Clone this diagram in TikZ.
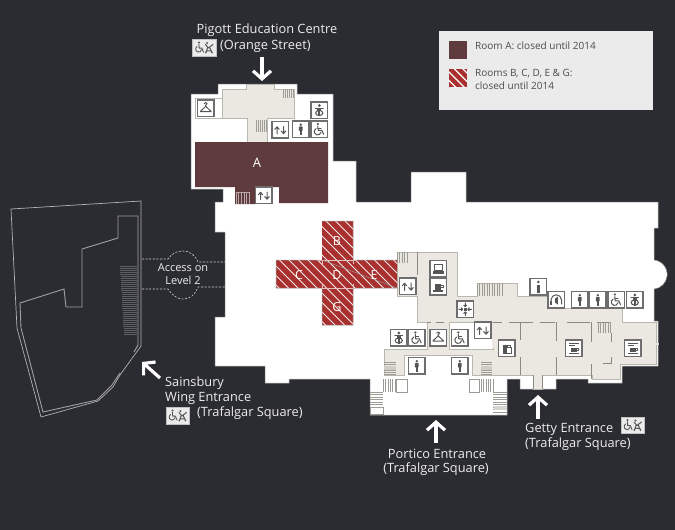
\documentclass[tikz,border=0pt]{standalone}
\usepackage{fontspec}
\setmainfont{Open Sans}
\usetikzlibrary{arrows.meta}
\definecolor{bgdark}{HTML}{2B2C31}
\definecolor{beige}{HTML}{EAE8E0}
\definecolor{roomA}{HTML}{5F3B3D}
\definecolor{roomred}{HTML}{A8302E}
\definecolor{legendbg}{HTML}{EBEBEB}
\definecolor{edge}{HTML}{B9B8AE}
\definecolor{icog}{HTML}{555558}
\definecolor{txtw}{HTML}{EDEDED}
\tikzset{
  lbl/.style={text=txtw,font=\fontsize{12.8}{15}\selectfont,inner sep=0pt},
  lgd/.style={text=bgdark!85,font=\fontsize{10}{12}\selectfont,inner sep=0pt,anchor=west},
  roomlbl/.style={text=white,font=\fontsize{12.5}{14}\selectfont,inner sep=0pt},
  entry/.style={white,line width=3.2,-{Straight Barb[length=8,width=18,line width=3.2]}},
  wall/.style={draw=edge,line width=.7},
  inner line/.style={draw=edge!75!black,line width=.7},
  tread/.style={draw=edge!85!black,line width=.5},
  wing/.style={draw=black!30,line width=.7},
  wingb/.style={draw=white!55!bgdark,line width=.9},
  acc/.style={draw=white!80!bgdark,line width=.6,dash pattern=on 2pt off 1.6pt},
  icobox/.style={fill=white,draw=icog!85,line width=1.1},
  gly/.style={draw=icog,line width=1,line cap=round,line join=round},
  glf/.style={fill=icog,draw=none},
}
\newcommand{\ico}[3]{\begin{scope}[shift={(#1,#2)}]\draw[icobox] (0,0) rectangle (16.5,16.5); #3\end{scope}}
\newcommand{\gLift}{\draw[gly] (5,12.5)--(5,5.5) (2.8,7.8)--(5,5.3)--(7.2,7.8) (11.5,5)--(11.5,12) (9.3,9.6)--(11.5,12.2)--(13.7,9.6);}
\newcommand{\gPerson}{\fill[glf] (8.25,3.7) circle (1.3); \fill[glf,rounded corners=.7] (6.4,5.4) rectangle (10.1,10); \fill[glf] (7,9.5) rectangle (9.5,14);}
\newcommand{\gWheel}{\fill[glf] (6.8,3) circle (1.2); \draw[gly] (6.8,5)--(7.1,9.3)--(10.8,9.3)--(12.6,13.3); \draw[gly] (7,7.1)--(10.2,7.1); \draw[gly] (5,7.6) arc[start angle=240,end angle=10,radius=3.4];}
\newcommand{\gBaby}{\fill[glf] (8.25,3.5) circle (1.5); \draw[gly] (4.4,6.2)--(12.1,6.2); \fill[glf] (6.2,6) rectangle (10.3,9); \draw[gly] (8.25,11) ellipse (3.6 and 2.6);\fill[glf] (7.4,9) rectangle (9.1,14);}
\newcommand{\gHanger}{\draw[gly] (8.2,6.3)--(8.2,5.2) .. controls (10,4.5) and (10,2.5) .. (8.2,2.5) .. controls (7,2.5) and (6.8,3.2) .. (6.8,3.6); \draw[gly] (8.2,6.3)--(13.6,11.5)--(2.9,11.5)--cycle;}
\newcommand{\gCup}{\fill[glf] (4.8,5.2) rectangle (11,11); \draw[gly] (11,6.5)--(13,6.5)--(13,9)--(11,9); \fill[glf] (3.4,11.8) rectangle (12.6,13);}
\newcommand{\gLaptop}{\draw[gly] (4.2,3.6) rectangle (12.3,9.8); \fill[glf] (2.8,10.8) rectangle (13.7,13.4);}
\newcommand{\gInfo}{\fill[glf] (8.25,3.4) circle (1.4); \fill[glf] (6.9,6) rectangle (9.6,14);}
\newcommand{\gCompass}{\draw[gly] (8.25,1.8)--(8.25,5.6) (6.8,4.2)--(8.25,5.6)--(9.7,4.2) (8.25,14.7)--(8.25,10.9) (6.8,12.3)--(8.25,10.9)--(9.7,12.3) (1.8,8.25)--(5.6,8.25) (4.2,6.8)--(5.6,8.25)--(4.2,9.7) (14.7,8.25)--(10.9,8.25) (12.3,6.8)--(10.9,8.25)--(12.3,9.7); \fill[glf] (7,7) rectangle (9.5,9.5);}
\newcommand{\gAudio}{\draw[gly] (3,12.5)--(3,8.5) arc[start angle=180,end angle=360,radius=5.25]--(13.5,12.5); \fill[glf] (2.2,9.5) rectangle (4,13); \fill[glf] (7,7)--(9.8,5.2)--(9.8,13)--(7,11)--cycle;}
\newcommand{\gBag}{\fill[glf] (4,4.5) rectangle (9.5,13.5); \draw[gly,fill=white] (8,7.6) rectangle (13,13.5); \draw[gly] (9.2,7.6)--(9.2,5.5)--(11.8,5.5)--(11.8,7.6);}
\newcommand{\gFood}{\fill[glf] (3.2,2.9) rectangle (13.4,4.3); \fill[glf] (3.2,5.3) rectangle (9,6.4); \fill[glf] (5,7.6) rectangle (11.6,12.3); \draw[gly] (11.6,8.5)--(13.3,8.5)--(13.3,10.5)--(11.6,10.5); \fill[glf] (3.4,13) rectangle (13,14.2);}
\newcommand{\badge}[2]{\begin{scope}[shift={(#1,#2)}]\draw[fill=legendbg,draw=white!70!bgdark,line width=.6] (0,0) rectangle (23.5,16.5);
  \fill[glf] (6.4,3) circle (1.1); \draw[gly,line width=.9] (6.4,4.6)--(6.7,8.6)--(9.4,8.6)--(11,12.6); \draw[gly,line width=.9] (4.6,7) arc[start angle=240,end angle=10,radius=3];
  \fill[glf] (14.4,3.5) circle (1.1); \draw[gly,line width=1] (13,5)--(16,8.5)--(20.4,5) (15.2,8)--(13.4,13.2) (17.2,8)--(19.5,13.2) (14,11.3)--(19,11.3); \fill[glf] (13.3,13) circle (.9) (19.5,13) circle (.9);\end{scope}}
\newcommand{\stairV}[5]{\foreach \xx in {#1,#5,...,#3}{\draw[tread] (\xx,#2)--(\xx,#4);}}
\newcommand{\stairH}[5]{\foreach \yy in {#2,#5,...,#4}{\draw[tread] (#1,\yy)--(#3,\yy);}}
\begin{document}
\begin{tikzpicture}[x=1pt,y=-1pt]
\useasboundingbox (0,0) rectangle (675,530);
\fill[bgdark] (0,0) rectangle (675,530);

% white floor
\path[fill=white,draw=white!60!black,line width=.5]
 (218,84)--(297,84)--(297,94)--(333,94)--(333,161)--(356,161)--(356,202)--(411,202)--(411,172)--(466,172)--(466,202)
 --(658,202)--(658,228)--(654,228)--(654,260) arc[start angle=-84,end angle=84,radius=14.6]
 --(654,321)--(658,321)--(658,366)--(622,366)--(622,383)--(588,383)--(588,379)--(556,379)--(556,389)--(520,389)--(520,379)
 --(507,379)--(507,415)--(370,415)--(370,379)--(289,379)--(289,383)--(265,383)--(265,366)--(215,366)--(215,317)--(225,317)
 --(225,232)--(215,232)--(215,202)--(223,202)--(223,189)--(191,189)--(191,94)--(218,94)--cycle;

% Pigott beige
\path[fill=beige,wall] (222,89)--(246,89)--(246,84.5)--(274,84.5)--(274,89)--(294,89)--(294,118)--(267,118)--(267,142)--(247,142)--(247,118)--(222,118)--cycle;
\draw[wall] (222,98)--(195,98)--(195,118)--(222,118);
\stairV{283}{89}{294}{98}{285}
\stairV{256}{120}{267}{132}{258}

% room A
\fill[roomA] (195,142)--(328,142)--(328,203)--(279,203)--(279,187)--(255,187)--(255,204)--(235,204)--(235,187)--(195,187)--cycle;
\begin{scope}[every path/.style={draw=white!55!roomA,line width=.5}]
\foreach \xx in {236,238.6,...,250}{\path (\xx,192)--(\xx,204);}
\path (236,192)--(249,192);
\end{scope}
\node[roomlbl,font=\fontsize{13}{15}\selectfont] (labA) at (257,163) {A};

% right beige
\path[fill=beige,wall] (397,252)--(457,252)--(457,296)--(477,296)--(477,283)--(517,283)--(517,296)--(547,296)--(547,308)--(622,308)--(622,322)--(656,322)--(656,364)--(620,364)--(620,379)--(592,379)--(592,375)--(542,375)--(542,389)--(533,389)--(533,375)--(472,375)--(472,355)--(404,355)--(404,375)--(384,375)--(384,349)--(427,349)--(427,322)--(417,322)--(417,296)--(397,296)--cycle;
\path[fill=white,wall] (449,322)--(493,322)--(493,349)--(449,349)--cycle;
\fill[beige] (492,323) rectangle (495,348);
\draw[inner line] (417,252)--(417,275);
\draw[inner line] (520,322)--(520,340) (520,357)--(520,375) (556,322)--(556,341) (556,357)--(556,375) (591,322)--(591,342) (611,333)--(611,342) (591,364)--(591,379) (603,363)--(611,363)--(611,357) (533,375)--(533,389) (542,375)--(542,389);
\draw[inner line] (493,322)--(502,322) (509,322)--(533,322) (540,322)--(555,322) (567,322)--(590,322) (597,322)--(610,322) (427,322)--(431,322) (436,322)--(444,322);
\draw[white!55!edge,line width=1.4] (656,344)--(659,344);
\stairV{397}{252}{409}{263}{399.5}
\stairV{477}{283}{503}{296}{479.5}
\stairV{598}{322}{611}{333}{600.5}
\stairH{384}{362}{396}{375}{364}
\stairH{481}{362}{492}{375}{364}
\fill[edge!70] (384,366) rectangle (396,370) (481,366) rectangle (492,370);

% portico
\stairV{383}{379}{396}{392}{385.4}
\draw[tread] (396,379) rectangle (407,392) (469,379) rectangle (479,392);
\stairV{481}{379}{493}{392}{483.4}
\stairH{370}{392}{383}{407}{394.5}
\draw[tread] (370,407) rectangle (383,414);
\stairH{493}{392}{507}{414}{394.5}
\fill[edge!60] (494,406) rectangle (507,410);

% hatched rooms
\begin{scope}
\clip (322,221)--(353,221)--(353,260)--(397,260)--(397,288)--(353,288)--(353,325)--(322,325)--(322,288)--(276,288)--(276,260)--(322,260)--cycle;
\fill[roomred] (270,215) rectangle (400,330);
\foreach \cc in {130,139.5,...,410}{\draw[white!90!roomred,line width=1] (\cc,215)--(\cc+120,335);}
\draw[white!70!roomred,line width=.6] (322,260)--(322,264) (353,260)--(353,264) (322,284)--(322,288) (353,284)--(353,288) (318,260)--(357,260) (318,288)--(357,288);
\end{scope}
\draw[white!60!black,line width=.5] (322,221)--(353,221)--(353,260)--(397,260) (397,288)--(353,288)--(353,325)--(322,325)--(322,288)--(276,288)--(276,260)--(322,260)--cycle;
\node[roomlbl] (labB) at (337,241) {B};
\node[roomlbl] (labC) at (299,275) {C};
\node[roomlbl] (labD) at (337,275) {D};
\node[roomlbl] (labE) at (374,275) {E};
\node[roomlbl] (labG) at (337,307) {G};

% icons
\ico{197.5}{100}{\gHanger}
\ico{311}{102}{\gBaby}
\ico{272}{121.5}{\gLift}
\ico{292.5}{121}{\gPerson}
\ico{311}{121}{\gWheel}
\ico{255.5}{187}{\gLift}
\ico{430}{260.5}{\gLaptop}
\ico{430}{278.5}{\gCup}
\ico{399.5}{278}{\gLift}
\ico{457}{301}{\gCompass}
\ico{530}{278.5}{\gInfo}
\ico{548}{291.5}{\gAudio}
\ico{571.5}{291.5}{\gPerson}
\ico{589.5}{291.5}{\gPerson}
\ico{608}{291.5}{\gWheel}
\ico{626.5}{291.5}{\gBaby}
\ico{390.5}{329.5}{\gBaby}
\ico{408.5}{329.5}{\gWheel}
\ico{430}{329.5}{\gHanger}
\ico{451.5}{329.5}{\gWheel}
\ico{474.5}{322}{\gLift}
\ico{498.5}{340}{\gBag}
\ico{565.5}{340}{\gFood}
\ico{624.5}{340}{\gFood}
\ico{408.5}{357.5}{\gPerson}
\ico{451.5}{357.5}{\gPerson}

% Sainsbury wing
\draw[wing] (11,209)--(141,201)--(141,346)--(120,375)--(113,387)--(98,401)--(41,417)--(17,328)--cycle;
\draw[wingb] (118,238)--(118,216)--(138,216)--(138,345)--(134,352) (118,238)--(82,249)--(82,307)--(66,307)--(64,289)--(20,303)--(21,328)--(43,412)--(97,400)--(112,385)--(120,373);
\foreach \yy in {266,268,...,335}{\pgfmathsetmacro{\xs}{120+(\yy-266)*0.058}\draw[white!24!bgdark,line width=.5] (\xs,\yy)--(137,\yy);}

% access dashes
\coordinate (wt) at (142,259); \coordinate (wb) at (142,289);
\coordinate (mt) at (225,262); \coordinate (mb) at (225,287);
\coordinate (ct) at (168,259); \coordinate (cb) at (168,289);
\coordinate (dt) at (198,262); \coordinate (db) at (198,287);
\draw[acc] (wt)--(ct) .. controls (172,253) and (177,251) .. (183,251) .. controls (190,251) and (195,255) .. (dt)--(mt);
\draw[acc] (wb)--(cb) .. controls (172,295) and (177,299) .. (183,299) .. controls (190,299) and (195,295) .. (db)--(mb);
\node[lbl,font=\fontsize{11}{13}\selectfont] (access1) at (183,267.5) {Access on};
\node[lbl,font=\fontsize{11}{13}\selectfont] (access2) at (183,280.5) {Level 2};

% labels and arrows
\node[lbl] (pig) at (267,30) {Pigott Education Centre};
\node[lbl,anchor=west] (ora) at (220,46) {(Orange Street)};
\badge{192.5}{39.5}
\coordinate (a1s) at (262,57); \coordinate (a1e) at (262,81);
\draw[entry] (a1s)--(a1e);

\coordinate (a2s) at (160,378); \coordinate (a2e) at (142,362);
\draw[entry] (a2s)--(a2e);
\node[lbl,anchor=west] (sa1) at (165,383) {Sainsbury};
\node[lbl,anchor=west] (sa2) at (165,398) {Wing Entrance};
\badge{166}{407.5}
\node[lbl,anchor=west] (sa3) at (197,413) {(Trafalgar Square)};

\coordinate (a3s) at (436,443); \coordinate (a3e) at (436,420);
\draw[entry] (a3s)--(a3e);
\node[lbl] (po1) at (437,454) {Portico Entrance};
\node[lbl] (po2) at (436,469) {(Trafalgar Square)};

\coordinate (a4s) at (538,419); \coordinate (a4e) at (538,395);
\draw[entry] (a4s)--(a4e);
\node[lbl,anchor=west] (ge1) at (525,429) {Getty Entrance};
\node[lbl,anchor=west] (ge2) at (525,444) {(Trafalgar Square)};
\badge{621}{417}

% legend
\fill[legendbg] (439,31) rectangle (653,110);
\fill[roomA] (449,41) rectangle (467,59);
\begin{scope}
\clip (449,69) rectangle (467,87);
\fill[roomred] (449,69) rectangle (467,87);
\foreach \cc in {425,433.5,...,470}{\draw[white,line width=1.1] (\cc,65)--(\cc+26,91);}
\end{scope}
\node[lgd] (lg1) at (475,45.5) {Room A: closed until 2014};
\node[lgd] (lg2) at (475,74) {Rooms B, C, D, E \& G:};
\node[lgd] (lg3) at (475,85.5) {closed until 2014};
\end{tikzpicture}
\end{document}
